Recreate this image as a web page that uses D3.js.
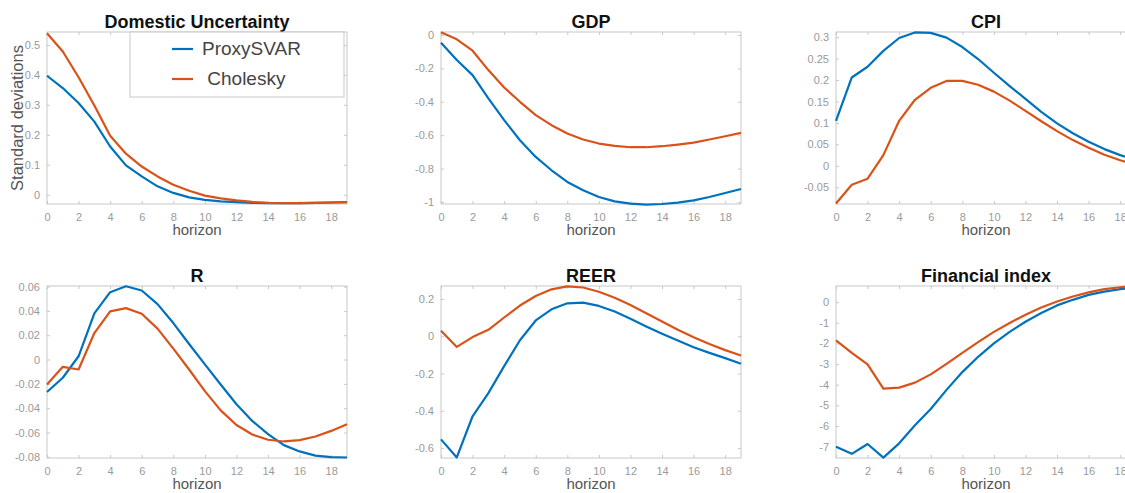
<!DOCTYPE html>
<html lang="en">
<head>
<meta charset="UTF-8">
<script src="https://d3js.org/d3.v7.min.js"></script>
<title>Impulse responses</title>
<style>
  body { margin: 0; background: #fff; }
  svg { font-family: "Liberation Sans", Arial, sans-serif; }
</style>
</head>
<body>
<div id="chart"></div>
<script>
// horizons 0..19
var horizon = d3.range(0, 20);

// Domestic Uncertainty
var uncProxy = [0.397, 0.356, 0.306, 0.244, 0.161, 0.098, 0.061, 0.028, 0.006, -0.009, -0.017, -0.022, -0.025, -0.027, -0.028, -0.028, -0.028, -0.027, -0.026, -0.025];
var uncChol  = [0.539, 0.478, 0.392, 0.298, 0.197, 0.137, 0.094, 0.061, 0.033, 0.013, -0.003, -0.012, -0.019, -0.024, -0.027, -0.028, -0.028, -0.027, -0.026, -0.025];

// GDP
var gdpProxy = [-0.046, -0.15, -0.24, -0.38, -0.51, -0.63, -0.73, -0.81, -0.88, -0.93, -0.97, -0.996, -1.01, -1.016, -1.012, -1.004, -0.99, -0.97, -0.946, -0.922];
var gdpChol  = [0.016, -0.026, -0.094, -0.21, -0.314, -0.40, -0.48, -0.54, -0.59, -0.626, -0.65, -0.664, -0.672, -0.672, -0.666, -0.656, -0.644, -0.626, -0.606, -0.586];

// CPI
var cpiProxy = [0.105, 0.206, 0.231, 0.268, 0.298, 0.311, 0.310, 0.299, 0.277, 0.249, 0.217, 0.186, 0.156, 0.126, 0.099, 0.076, 0.056, 0.039, 0.025, 0.013];
var cpiChol  = [-0.088, -0.044, -0.03, 0.025, 0.105, 0.154, 0.182, 0.198, 0.198, 0.189, 0.173, 0.152, 0.128, 0.104, 0.081, 0.06, 0.042, 0.026, 0.013, 0.002];

// R
var rProxy = [-0.0267, -0.015, 0.0027, 0.038, 0.0554, 0.0603, 0.0568, 0.0456, 0.03, 0.0128, -0.004, -0.0205, -0.0368, -0.0505, -0.0614, -0.0704, -0.0756, -0.079, -0.0803, -0.0806];
var rChol  = [-0.0205, -0.006, -0.0082, 0.0218, 0.0396, 0.0423, 0.0377, 0.0254, 0.009, -0.0082, -0.026, -0.0418, -0.0538, -0.0617, -0.066, -0.0674, -0.0663, -0.0633, -0.0587, -0.0532];

// REER
var reerProxy = [-0.553, -0.65, -0.429, -0.305, -0.16, -0.021, 0.085, 0.145, 0.177, 0.181, 0.163, 0.133, 0.094, 0.053, 0.014, -0.023, -0.059, -0.089, -0.117, -0.147];
var reerChol  = [0.03, -0.057, -0.004, 0.035, 0.101, 0.165, 0.216, 0.252, 0.268, 0.262, 0.239, 0.207, 0.168, 0.124, 0.08, 0.035, -0.005, -0.041, -0.074, -0.103];

// Financial index
var finProxy = [-7.0, -7.35, -6.87, -7.53, -6.84, -5.96, -5.18, -4.25, -3.39, -2.65, -2.0, -1.44, -0.95, -0.53, -0.16, 0.11, 0.35, 0.51, 0.63, 0.7];
var finChol  = [-1.85, -2.46, -3.02, -4.19, -4.14, -3.9, -3.5, -2.99, -2.46, -1.94, -1.44, -1.01, -0.61, -0.26, 0.03, 0.27, 0.47, 0.63, 0.72, 0.78];

var titles = ["Domestic Uncertainty", "GDP", "CPI", "R", "REER", "Financial index"];
var seriesNames = ["ProxySVAR", " Cholesky"];
var xTicks = [0, 2, 4, 6, 8, 10, 12, 14, 16, 18];
var yDomains = [[-0.031, 0.543], [-1.012, 0.018], [-0.089, 0.312], [-0.081, 0.0605], [-0.653, 0.27], [-7.55, 0.78]];
var yTicks = [
  [0, 0.1, 0.2, 0.3, 0.4, 0.5],
  [-1, -0.8, -0.6, -0.4, -0.2, 0],
  [-0.05, 0, 0.05, 0.1, 0.15, 0.2, 0.25, 0.3],
  [-0.08, -0.06, -0.04, -0.02, 0, 0.02, 0.04, 0.06],
  [-0.6, -0.4, -0.2, 0, 0.2],
  [-7, -6, -5, -4, -3, -2, -1, 0]
];

var panels = [
  {proxy: uncProxy, chol: uncChol},
  {proxy: gdpProxy, chol: gdpChol},
  {proxy: cpiProxy, chol: cpiChol},
  {proxy: rProxy, chol: rChol},
  {proxy: reerProxy, chol: reerChol},
  {proxy: finProxy, chol: finChol}
];

var colors = ["#0072BD", "#D95319"];

var W = 1125, H = 493;
var colLeft = [47, 441, 836], plotW = 300;
var rowTop = [32, 286], plotH = 172;

var svg = d3.select("#chart").append("svg")
    .attr("width", W)
    .attr("height", H);

panels.forEach(function(p, i) {
  var col = i % 3, row = Math.floor(i / 3);
  var g = svg.append("g")
      .attr("transform", "translate(" + colLeft[col] + "," + rowTop[row] + ")");

  var x = d3.scaleLinear().domain([0, 19]).range([0, plotW]);
  var y = d3.scaleLinear().domain(yDomains[i]).range([plotH, 0]);

  // box
  g.append("rect")
      .attr("width", plotW).attr("height", plotH)
      .attr("fill", "none").attr("stroke", "#c8c8c8").attr("stroke-width", 1);

  // axes with inward ticks, MATLAB style
  var fmt = function(d) { return String(+d.toFixed(3)); };
  var xAx = g.append("g").attr("transform", "translate(0," + plotH + ")")
      .call(d3.axisBottom(x).tickValues(xTicks).tickSize(-3).tickPadding(9).tickFormat(fmt));
  var xTop = g.append("g")
      .call(d3.axisTop(x).tickValues(xTicks).tickSize(-3).tickFormat(""));
  var yAx = g.append("g")
      .call(d3.axisLeft(y).tickValues(yTicks[i]).tickSize(-3).tickPadding(7).tickFormat(fmt));
  var yRight = g.append("g").attr("transform", "translate(" + plotW + ",0)")
      .call(d3.axisRight(y).tickValues(yTicks[i]).tickSize(-3).tickFormat(""));
  [xAx, xTop, yAx, yRight].forEach(function(a) {
    a.select(".domain").remove();
    a.selectAll(".tick line").attr("stroke", "#c8c8c8");
    a.selectAll(".tick text").attr("fill", "#9a9a9a").style("font-size", "11px");
  });

  var line = d3.line()
      .x(function(d, k) { return x(horizon[k]); })
      .y(function(d) { return y(d); });

  [p.proxy, p.chol].forEach(function(s, k) {
    g.append("path")
        .datum(s)
        .attr("d", line)
        .attr("fill", "none")
        .attr("stroke", colors[k])
        .attr("stroke-width", 2.2)
        .attr("stroke-linejoin", "round");
  });

  // title
  g.append("text")
      .attr("x", plotW / 2).attr("y", -4)
      .attr("text-anchor", "middle")
      .style("font-size", "18px").style("font-weight", "bold")
      .attr("fill", "#111")
      .text(titles[i]);

  // x label
  g.append("text")
      .attr("x", plotW / 2).attr("y", plotH + 31)
      .attr("text-anchor", "middle")
      .style("font-size", "15px")
      .attr("fill", "#555")
      .text("horizon");
});

// y label on the first panel
svg.append("text")
    .attr("transform", "translate(23," + (rowTop[0] + plotH / 2) + ") rotate(-90)")
    .attr("text-anchor", "middle")
    .style("font-size", "16.5px")
    .attr("fill", "#555")
    .text("Standard deviations");

// legend in first panel
var leg = svg.append("g").attr("transform", "translate(130,32)");
leg.append("rect")
    .attr("width", 214).attr("height", 65)
    .attr("fill", "#fff").attr("stroke", "#c8c8c8");
seriesNames.forEach(function(n, k) {
  var yy = 17 + k * 30;
  leg.append("line")
      .attr("x1", 42).attr("x2", 63).attr("y1", yy).attr("y2", yy)
      .attr("stroke", colors[k]).attr("stroke-width", 2.2);
  leg.append("text")
      .attr("x", 72).attr("y", yy + 6)
      .style("font-size", "19px")
      .style("white-space", "pre")
      .attr("fill", "#444")
      .text(n);
});
</script>
</body>
</html>
